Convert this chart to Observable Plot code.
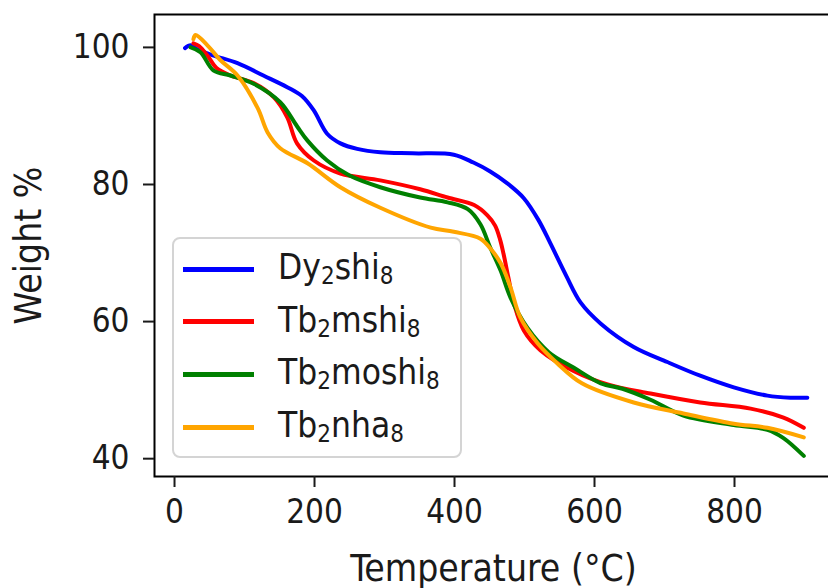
<!DOCTYPE html>
<html>
<head>
<meta charset="utf-8">
<script src="https://cdn.jsdelivr.net/npm/d3@7"></script>
<script src="https://cdn.jsdelivr.net/npm/@observablehq/plot@0.6"></script>
<style>
  html, body { margin: 0; padding: 0; background: #fff; overflow: hidden; }
  #wrap { position: relative; width: 828px; height: 588px; overflow: hidden; font-family: "DejaVu Sans Condensed", "DejaVu Sans", sans-serif; font-stretch: condensed; }
  #legend { position: absolute; left: 172px; top: 237px; width: 290px; height: 221px;
    border: 2px solid #d4d4d4; border-radius: 8px; background: rgba(255,255,255,0.85); box-sizing: border-box; }
  .sw { position: absolute; left: 9px; width: 71px; height: 5px; }
  .lab { position: absolute; left: 104px; font-size: 35px; color: #1a1a1a; white-space: nowrap; line-height: 1; }
  .lab sub { font-size: 24px; vertical-align: -0.22em; line-height: 0; }
</style>
</head>
<body>
<div id="wrap"></div>
<script>
// ---- data ----
const seriesNames = ["Dy2shi8", "Tb2mshi8", "Tb2moshi8", "Tb2nha8"];
const seriesColors = ["#0000ff", "#ff0000", "#008000", "#ffa500"];
const legendParts = [["Dy","2","shi","8"], ["Tb","2","mshi","8"], ["Tb","2","moshi","8"], ["Tb","2","nha","8"]];

const dyT = [15, 23, 35, 56, 90, 127, 161, 182, 199, 218, 237, 261, 294, 340, 399, 427, 451, 475, 499, 520, 537, 560, 580, 609, 656, 704, 751, 799, 847, 880, 904];
const dyW = [99.9, 100.3, 99.6, 98.8, 97.7, 95.9, 94.2, 92.9, 90.8, 87.4, 86.0, 85.2, 84.7, 84.55, 84.35, 83.2, 81.9, 80.2, 78.0, 74.8, 71.4, 66.6, 62.8, 59.7, 56.3, 54.1, 52.1, 50.4, 49.2, 48.9, 48.9];

const msT = [27, 35, 47, 60, 80, 113, 142, 161, 175, 199, 237, 294, 351, 390, 428, 447, 458, 465, 470, 477, 485, 499, 523, 570, 620, 680, 751, 823, 870, 899];
const msW = [100.6, 100.2, 98.8, 97.0, 95.9, 94.8, 92.7, 89.8, 86.0, 83.5, 81.6, 80.6, 79.3, 78.1, 77.0, 75.5, 74.0, 72.0, 69.9, 66.4, 62.6, 58.7, 55.8, 52.8, 50.8, 49.5, 48.2, 47.3, 46.0, 44.5];

const moT = [23, 37, 56, 80, 113, 151, 175, 190, 218, 250, 294, 351, 390, 419, 437, 451, 466, 480, 504, 535, 570, 609, 640, 680, 727, 799, 847, 870, 899];
const moW = [100.0, 99.3, 96.6, 95.9, 94.7, 92.0, 88.5, 86.4, 83.5, 81.3, 79.6, 78.1, 77.4, 76.4, 74.2, 70.8, 67.4, 63.5, 59.1, 55.5, 53.3, 51.0, 50.2, 48.6, 46.3, 44.9, 44.2, 43.0, 40.4];

const nhT = [27, 30, 47, 65, 90, 119, 133, 151, 190, 237, 294, 366, 399, 437, 451, 466, 480, 494, 519, 547, 582, 656, 727, 799, 847, 899];
const nhW = [101.2, 101.8, 100.3, 98.2, 95.9, 91.1, 87.6, 85.3, 83.1, 79.6, 76.6, 73.7, 73.1, 72.1, 70.7, 68.5, 65.0, 60.6, 56.8, 53.9, 51.0, 48.2, 46.6, 45.1, 44.5, 43.1];

const xTicks = [0, 200, 400, 600, 800];
const yTicks = [40, 60, 80, 100];

// ---- build table ----
const seriesT = [dyT, msT, moT, nhT];
const seriesW = [dyW, msW, moW, nhW];
const rows = [];
seriesNames.forEach((name, i) => {
  seriesT[i].forEach((t, j) => rows.push({series: name, T: t, W: seriesW[i][j]}));
});

const chart = Plot.plot({
  width: 828,
  height: 588,
  marginLeft: 154,
  marginRight: -4,
  marginTop: 14,
  marginBottom: 112,
  style: {fontFamily: "'DejaVu Sans Condensed', 'DejaVu Sans', sans-serif", fontSize: "33px", color: "#1a1a1a", background: "white", overflow: "hidden"},
  x: {domain: [-28.6, 940]},
  y: {domain: [37.4, 104.8]},
  color: {domain: seriesNames, range: seriesColors},
  marks: [
    Plot.line(rows, {x: "T", y: "W", z: "series", stroke: "series", strokeWidth: 4, curve: "catmull-rom"}),
    Plot.frame({stroke: "#000", strokeWidth: 2}),
    Plot.axisX({ticks: xTicks, tickSize: 11, tickPadding: 12, strokeWidth: 2, label: "Temperature (°C)", labelAnchor: "center", labelArrow: "none", labelOffset: 104}),
    Plot.axisY({ticks: yTicks, tickSize: 11, tickPadding: 14, strokeWidth: 2, label: "Weight %", labelAnchor: "center", labelArrow: "none", labelOffset: 140})
  ]
});

// enlarge axis titles slightly, as in the reference
d3.select(chart).selectAll('g[aria-label="x-axis label"] text, g[aria-label="y-axis label"] text')
  .style("font-size", "37px");

const wrap = document.getElementById("wrap");
wrap.appendChild(chart);

// ---- legend ----
const legend = document.createElement("div");
legend.id = "legend";
legendParts.forEach((p, i) => {
  const top = 30 + i * 52.7;
  const sw = document.createElement("div");
  sw.className = "sw";
  sw.style.background = seriesColors[i];
  sw.style.top = (top - 2.5) + "px";
  const lab = document.createElement("div");
  lab.className = "lab";
  lab.style.top = (top - 19) + "px";
  lab.innerHTML = `${p[0]}<sub>${p[1]}</sub>${p[2]}<sub>${p[3]}</sub>`;
  legend.appendChild(sw);
  legend.appendChild(lab);
});
wrap.appendChild(legend);
</script>
</body>
</html>
